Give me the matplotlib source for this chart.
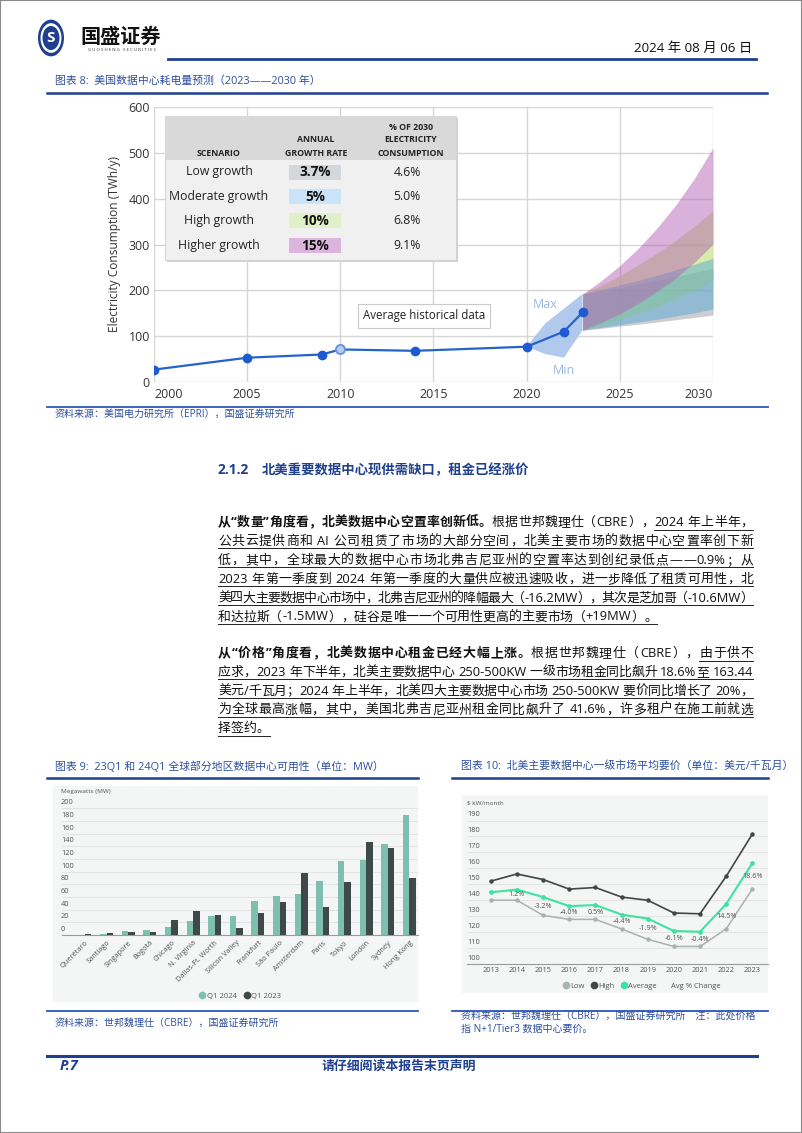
import re
import matplotlib
matplotlib.use('Agg')
import matplotlib.pyplot as plt
import matplotlib.transforms as mtransforms
from matplotlib.patches import Rectangle, Circle
from matplotlib.lines import Line2D

plt.rcParams['font.family'] = ['Open Sans', 'Noto Sans CJK SC', 'DejaVu Sans']

# ---------------- 图表 8 数据 ----------------
hist_years = [2000, 2005, 2009, 2010, 2014, 2020, 2022, 2023]
hist_twh = [27, 53, 60, 71, 68, 77, 110, 152]
band_max_years = [2020, 2021, 2023]
band_max = [77, 128, 192]
band_min_years = [2020, 2021, 2022, 2023]
band_min = [77, 61, 53, 113]
proj_years = [2023, 2024, 2025, 2026, 2027, 2028, 2029, 2030]
low_lo = [113, 117, 122, 126, 131, 136, 141, 146]
low_hi = [192, 199, 206, 214, 222, 230, 239, 248]
mod_lo = [113, 119, 125, 131, 137, 144, 151, 159]
mod_hi = [192, 202, 212, 222, 233, 245, 257, 270]
high_lo = [113, 124, 137, 150, 165, 182, 200, 220]
high_hi = [192, 211, 232, 256, 281, 309, 340, 374]
higher_lo = [113, 130, 149, 172, 198, 227, 261, 301]
higher_hi = [192, 221, 254, 292, 336, 386, 444, 511]
scenarios = ['Low growth', 'Moderate growth', 'High growth', 'Higher growth']
growth_rates = ['3.7%', '5%', '10%', '15%']
shares_2030 = ['4.6%', '5.0%', '6.8%', '9.1%']

# ---------------- 图表 9 数据 ----------------
markets = ['Querétaro', 'Santiago', 'Singapore', 'Bogotá', 'Chicago', 'N. Virginia',
           'Dallas-Ft. Worth', 'Silicon Valley', 'Frankfurt', 'São Paulo', 'Amsterdam',
           'Paris', 'Tokyo', 'London', 'Sydney', 'Hong Kong']
mw_q1_2024 = [0.5, 1, 7, 8, 13.2, 21.8, 29.5, 30, 53, 62, 65, 85, 116, 119, 143, 190]
mw_q1_2023 = [1.5, 3.5, 4, 5, 23.8, 38, 31, 11, 34, 52, 98, 44, 84, 146, 137, 90]

# ---------------- 图表 10 数据 ----------------
price_years = [2013, 2014, 2015, 2016, 2017, 2018, 2019, 2020, 2021, 2022, 2023]
price_high = [152, 156.5, 153, 147, 148, 142, 140, 132, 131.5, 155, 181.5]
price_avg = [145.0, 146.7, 142.0, 136.3, 137.0, 131.0, 128.5, 120.7, 120.2, 137.6, 163.2]
price_low = [140, 140, 130.5, 128, 128, 122, 115.5, 111, 111, 122, 147]
avg_change = ['', '1.2%', '-3.2%', '-4.0%', '0.5%', '-4.4%', '-1.9%', '-6.1%', '-0.4%', '14.5%', '18.6%']

W, H = 802, 1133
NAVY = '#1f3f8f'
CAP = '#2d4f9e'

fig = plt.figure(figsize=(8.02, 11.33), dpi=100)
fig.patch.set_facecolor('white')


def box(x0, y0, x1, y1):
    return [x0 / W, 1 - y1 / H, (x1 - x0) / W, (y1 - y0) / H]


def prect(x0, y0, x1, y1, **kw):
    fig.add_artist(Rectangle((x0 / W, 1 - y1 / H), (x1 - x0) / W, (y1 - y0) / H,
                             transform=fig.transFigure, **kw))


def pline(x0, x1, y, **kw):
    fig.add_artist(Line2D([x0 / W, x1 / W], [1 - y / H, 1 - y / H],
                          transform=fig.transFigure, **kw))


def ptext(x, y, s, **kw):
    return fig.text(x / W, 1 - y / H, s, **kw)


# 页面边框
fig.add_artist(Rectangle((0, 0), 1, 1, transform=fig.transFigure, fill=False,
                         ec='#8a8a8a', lw=1.5))

# ---------------- 页眉 ----------------
for r, c in [(13, NAVY), (10.5, 'white'), (8.5, NAVY)]:
    fig.add_artist(Circle((51 / W, 1 - 38 / H), r / W, transform=fig.transFigure,
                          fc=c, ec='none'))
ptext(51, 38.5, 'S', ha='center', va='center', fontsize=11, fontweight='bold', color='white')
ptext(80, 38, '国盛证券', va='center', fontsize=14.5, fontweight='bold', color='#111')
ptext(122, 50, 'G U O S H E N G   S E C U R I T I E S', ha='center', va='center',
      fontsize=3.2, color='#333')
ptext(752, 48, '2024 年 08 月 06 日', ha='right', va='center', fontsize=9.6, color='#111')
pline(168, 756, 59, color=NAVY, lw=2)

# ---------------- 图表 8 ----------------
ptext(55, 81, '图表 8:  美国数据中心耗电量预测（2023——2030 年）', va='center',
      fontsize=7.8, color=CAP)
pline(47, 767, 93, color=NAVY, lw=1.8)

ax1 = fig.add_axes(box(154, 107, 713, 382))
ax1.set_xlim(2000, 2030)
ax1.set_ylim(0, 600)
for s in ax1.spines.values():
    s.set_visible(False)
ax1.set_xticks(range(2000, 2031, 5), [str(y) for y in range(2000, 2031, 5)])
ax1.set_yticks(range(0, 601, 100))
xl = ax1.get_xticklabels()
xl[0].set_horizontalalignment('left')
xl[-1].set_horizontalalignment('right')
ax1.grid(True, color='#d6d6d6', lw=1.0)
ax1.set_axisbelow(True)
ax1.tick_params(axis='both', length=0, labelsize=9, colors='#333')
ax1.tick_params(axis='x', pad=4.5)
ax1.tick_params(axis='y', pad=3)
ax1.set_ylabel('Electricity Consumption (TWh/y)', fontsize=8.6, color='#333', labelpad=5)

ax1.fill_between(proj_years, low_lo, low_hi, color='#9d9da3', alpha=0.5, lw=0)
ax1.fill_between(proj_years, high_lo, high_hi, color='#b6db64', alpha=0.55, lw=0)
ax1.fill_between(proj_years, mod_lo, mod_hi, color='#4aa6d8', alpha=0.45, lw=0)
ax1.fill_between(proj_years, higher_lo, higher_hi, color='#b664b6', alpha=0.5, lw=0)

ax1.fill(band_max_years + band_min_years[::-1], band_max + band_min[::-1],
         color='#a9c4ea', alpha=0.9, lw=0)
ax1.plot(hist_years, hist_twh, color='#2563c9', lw=1.6, marker='o', ms=6,
         mfc='#1f5bd0', mec='#1f5bd0', markevery=[0, 1, 2, 4, 5, 6, 7], zorder=4)
ax1.plot([hist_years[3]], [hist_twh[3]], 'o', ms=6.5, mfc='#b7cdf0', mec='#6d93dc',
         mew=1.4, zorder=5)
ax1.text(2021.0, 170, 'Max', color='#98b6e3', fontsize=9, ha='center', va='center')
ax1.text(2022.0, 24, 'Min', color='#98b6e3', fontsize=9, ha='center', va='center')
ax1.text(2014.5, 144, 'Average historical data', fontsize=8.3, color='#222',
         ha='center', va='center',
         bbox=dict(boxstyle='square,pad=0.45', fc='white', ec='#c9c9c9', lw=0.8))

# 情景表格
prect(167, 118, 458, 262, fc='#d2d2d2', ec='none', zorder=4)
prect(165, 116, 456, 260, fc='#f0f0f0', ec='#d0d0d0', lw=0.6, zorder=5)
prect(165, 116, 456, 160, fc='#d9d9d9', ec='none', zorder=6)
hkw = dict(ha='center', va='center', fontsize=6.3, fontweight='bold', color='#222', zorder=7)
ptext(219, 153, 'SCENARIO', **hkw)
ptext(316, 140, 'ANNUAL', **hkw)
ptext(316, 153, 'GROWTH RATE', **hkw)
ptext(411, 127, '% OF 2030', **hkw)
ptext(411, 140, 'ELECTRICITY', **hkw)
ptext(411, 153, 'CONSUMPTION', **hkw)
cell_colors = ['#d5d8da', '#c9e4f6', '#e0f1c9', '#dcb5de']
for i, (name, rate, share) in enumerate(zip(scenarios, growth_rates, shares_2030)):
    y = 172 + i * 24.4
    prect(289, y - 7.5, 341, y + 7.5, fc=cell_colors[i], ec='none', zorder=6)
    ptext(219, y, name, ha='center', va='center', fontsize=8.8, color='#222', zorder=7)
    ptext(315, y + 0.5, rate, ha='center', va='center', fontsize=9.8,
          fontweight='bold', color='#111', zorder=7)
    ptext(407, y, share, ha='center', va='center', fontsize=8.8, color='#222', zorder=7)

pline(47, 768, 407, color='#2c56b8', lw=1.3)
ptext(55, 414, '资料来源：美国电力研究所（EPRI），国盛证券研究所', va='center',
      fontsize=7.2, color=CAP)

# ---------------- 正文 ----------------
ptext(218, 474, '2.1.2', va='baseline', fontsize=10, fontweight='bold', color=NAVY)
ptext(262, 474, '北美重要数据中心现供需缺口，租金已经涨价', va='baseline',
      fontsize=9.6, fontweight='bold', color=NAVY)

TOK = re.compile(r'[A-Za-z0-9.%+\-/]+| |.')
BODY = 9.3


def text_line(segs, x0, y, x1=None):
    r = fig.canvas.get_renderer()
    toks = []
    for s, bold, ul in segs:
        for t in TOK.findall(s):
            toks.append((t, bold, ul))
    arts, widths = [], []
    for t, bold, ul in toks:
        if t == ' ':
            arts.append(None)
            widths.append(BODY * 100 / 72 * 0.28)
        else:
            a = fig.text(0, 0, t, fontsize=BODY, fontweight='bold' if bold else 'normal',
                         va='baseline', ha='left', color='#111')
            arts.append(a)
            widths.append(a.get_window_extent(r).width)
    gap = 0
    if x1 is not None and len(toks) > 1:
        gap = (x1 - x0 - sum(widths)) / (len(toks) - 1)
    x = x0
    u0 = u1 = None
    for (t, bold, ul), a, w in zip(toks, arts, widths):
        if a is not None:
            a.set_position((x / W, 1 - y / H))
        if ul:
            if u0 is None:
                u0 = x
            u1 = x + w
        x += w + gap
    if u0 is not None:
        pline(u0, u1, y + 3.5, color='#222', lw=0.7)


para1 = [
    [('从“数量”角度看，北美数据中心空置率创新低。', True, False),
     ('根据世邦魏理仕（CBRE），', False, False), ('2024 年上半年，', False, True)],
    [('公共云提供商和 AI 公司租赁了市场的大部分空间，北美主要市场的数据中心空置率创下新', False, True)],
    [('低，其中，全球最大的数据中心市场北弗吉尼亚州的空置率达到创纪录低点——0.9%；从', False, True)],
    [('2023 年第一季度到 2024 年第一季度的大量供应被迅速吸收，进一步降低了租赁可用性，北', False, True)],
    [('美四大主要数据中心市场中，北弗吉尼亚州的降幅最大（-16.2MW），其次是芝加哥（-10.6MW）', False, True)],
    [('和达拉斯（-1.5MW），硅谷是唯一一个可用性更高的主要市场（+19MW）。', False, True)],
]
para2 = [
    [('从“价格”角度看，北美数据中心租金已经大幅上涨。', True, False),
     ('根据世邦魏理仕（CBRE），', False, False), ('由于供不', False, True)],
    [('应求，2023 年下半年，北美主要数据中心 250-500KW 一级市场租金同比飙升 18.6%至 163.44', False, True)],
    [('美元/千瓦月；2024 年上半年，北美四大主要数据中心市场 250-500KW 要价同比增长了 20%，', False, True)],
    [('为全球最高涨幅，其中，美国北弗吉尼亚州租金同比飙升了 41.6%，许多租户在施工前就选', False, True)],
    [('择签约。', False, True)],
]
for i, segs in enumerate(para1):
    text_line(segs, 218, 526 + i * 18.9, None if i == len(para1) - 1 else 753)
for i, segs in enumerate(para2):
    text_line(segs, 218, 657 + i * 18.8, None if i == len(para2) - 1 else 753)

# ---------------- 图表 9 ----------------
ptext(55, 767, '图表 9:  23Q1 和 24Q1 全球部分地区数据中心可用性（单位：MW）', va='center',
      fontsize=7.8, color=CAP)
pline(47, 418, 778, color=NAVY, lw=1.8)
prect(53, 786, 418, 1002, fc='#f4f5f5', ec='none', zorder=-1)
ptext(61, 792, 'Megawatts (MW)', va='center', fontsize=4.6, color='#555')

TEAL, DARK = '#7fbfae', '#3d4a48'
ax2 = fig.add_axes(box(62, 800, 418, 935))
ax2.set_facecolor('none')
ax2.set_xlim(-1.06, 15.4)
ax2.set_ylim(0, 213)
idx = list(range(len(markets)))
ax2.bar([i - 0.15 for i in idx], mw_q1_2024, width=0.3, color=TEAL, zorder=3)
ax2.bar([i + 0.15 for i in idx], mw_q1_2023, width=0.3, color=DARK, zorder=3)
for s in ['top', 'right', 'left']:
    ax2.spines[s].set_visible(False)
ax2.spines['bottom'].set_color('#9a9a9a')
ax2.spines['bottom'].set_linewidth(0.8)
ax2.set_yticks([])
tr2 = mtransforms.offset_copy(mtransforms.blended_transform_factory(ax2.transAxes, ax2.transData),
                              fig=fig, y=1.5, units='points')
for v in range(0, 201, 20):
    if v > 0:
        ax2.axhline(v, color='#dedede', lw=0.5, zorder=1)
    ax2.text(-0.003, v, str(v), transform=tr2, ha='left', va='bottom', fontsize=5.3,
             color='#555')
ax2.set_xticks(idx, markets, rotation=45, ha='right', rotation_mode='anchor')
ax2.tick_params(axis='x', length=0, pad=3, labelsize=5.3, colors='#555')
ax2.legend([Line2D([], [], ls='', marker='o', ms=4.5, color=TEAL),
            Line2D([], [], ls='', marker='o', ms=4.5, color=DARK)],
           ['Q1 2024', 'Q1 2023'], loc='center', bbox_to_anchor=(240 / W, 1 - 996 / H),
           bbox_transform=fig.transFigure, ncol=2, frameon=False, fontsize=5.5,
           handletextpad=0.1, columnspacing=0.8, handlelength=1, labelcolor='#555')

pline(47, 418, 1011, color='#2c56b8', lw=1.3)
ptext(55, 1023, '资料来源：世邦魏理仕（CBRE），国盛证券研究所', va='center',
      fontsize=7.2, color=CAP)

# ---------------- 图表 10 ----------------
ptext(461, 766, '图表 10:  北美主要数据中心一级市场平均要价（单位：美元/千瓦月）', va='center',
      fontsize=7.8, color=CAP)
pline(452, 768, 778, color=NAVY, lw=1.8)
prect(462, 795, 768, 993, fc='#f4f5f5', ec='none', zorder=-1)
ptext(467, 803, '$ kW/month', va='center', fontsize=4.6, color='#555')

C_LOW, C_HIGH, C_AVG = '#a9b3b0', '#3f4747', '#3ee2a2'
ax3 = fig.add_axes(box(467, 800, 768, 964))
ax3.set_facecolor('none')
ax3.set_xlim(2012.09, 2023.6)
ax3.set_ylim(100, 202.9)
ax3.plot(price_years, price_low, color=C_LOW, lw=1.1, marker='o', ms=2.2, zorder=3)
ax3.plot(price_years, price_high, color=C_HIGH, lw=1.2, marker='o', ms=2.2, zorder=3)
ax3.plot(price_years, price_avg, color=C_AVG, lw=1.5, marker='o', ms=2.4, zorder=4)
for yr, a, lo, lab in zip(price_years, price_avg, price_low, avg_change):
    if lab:
        ax3.text(yr, (a + lo) / 2, lab, ha='center', va='center', fontsize=5.2,
                 color='#555', zorder=5)
for s in ['top', 'right', 'left']:
    ax3.spines[s].set_visible(False)
ax3.spines['bottom'].set_color('#9a9a9a')
ax3.spines['bottom'].set_linewidth(0.8)
ax3.set_yticks([])
tr3 = mtransforms.offset_copy(mtransforms.blended_transform_factory(ax3.transAxes, ax3.transData),
                              fig=fig, y=1.5, units='points')
for v in range(100, 191, 10):
    if v > 100:
        ax3.axhline(v, color='#dedede', lw=0.5, zorder=1)
    ax3.text(0.0, v, str(v), transform=tr3, ha='left', va='bottom', fontsize=5.3,
             color='#555')
ax3.set_xticks(price_years, [str(y) for y in price_years])
ax3.tick_params(axis='x', length=0, pad=2.5, labelsize=5.3, colors='#555')
ax3.legend([Line2D([], [], ls='', marker='o', ms=4.5, color=C_LOW),
            Line2D([], [], ls='', marker='o', ms=4.5, color=C_HIGH),
            Line2D([], [], ls='', marker='o', ms=4.5, color=C_AVG),
            Line2D([], [], ls='', marker='')],
           ['Low', 'High', 'Average', 'Avg % Change'], loc='center',
           bbox_to_anchor=(641 / W, 1 - 986 / H), bbox_transform=fig.transFigure, ncol=4,
           frameon=False, fontsize=5.5, handletextpad=0.1, columnspacing=0.7,
           handlelength=1, labelcolor='#555')

pline(452, 768, 1011, color='#2c56b8', lw=1.3)
ptext(461, 1017, '资料来源：世邦魏理仕（CBRE），国盛证券研究所　注：此处价格', va='center',
      fontsize=7.2, color=CAP)
ptext(461, 1029, '指 N+1/Tier3 数据中心要价。', va='center', fontsize=7.2, color=CAP)

# ---------------- 页脚 ----------------
pline(47, 757, 1056, color=NAVY, lw=2.2)
ptext(60, 1066, 'P.7', va='center', fontsize=10.5, fontweight='bold', style='italic', color=NAVY)
ptext(399, 1066, '请仔细阅读本报告末页声明', ha='center', va='center', fontsize=9.3,
      fontweight='bold', color=NAVY)

fig.savefig('out.png', dpi=100)
